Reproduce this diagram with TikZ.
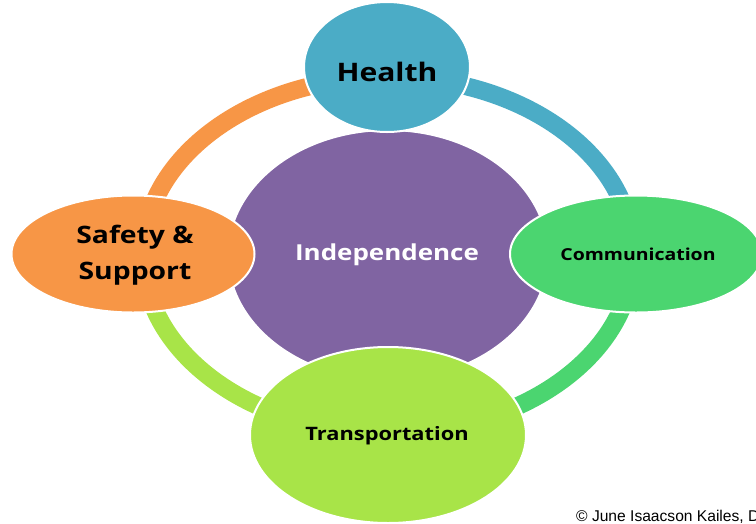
\documentclass[tikz,border=0pt]{standalone}
\usepackage{fontspec}
\usetikzlibrary{shapes.geometric}
\newfontfamily\lblfont[FakeStretch=1.18]{Open Sans}
\newfontfamily\copyfont{Liberation Sans}
\definecolor{cHealth}{HTML}{4BACC6}
\definecolor{cIndep}{HTML}{8064A2}
\definecolor{cSafety}{HTML}{F79646}
\definecolor{cComm}{HTML}{4BD570}
\definecolor{cTrans}{HTML}{A8E448}
\tikzset{
  ringarc/.style={line width=18pt, line cap=butt},
  blob/.style={ellipse, draw=white, line width=2pt, inner sep=0pt},
  lbl/.style={font=\lblfont\bfseries, text=black, align=center, inner sep=0pt},
}
\begin{document}
\begin{tikzpicture}[x=1pt,y=-1pt]
\useasboundingbox (0,0) rectangle (756,523);
\clip (0,0) rectangle (756,523);
% ring
\draw[ringarc, cSafety] (143,255) arc[start angle=180, end angle=270, x radius=245, y radius=178];
\draw[ringarc, cHealth] (388,77) arc[start angle=270, end angle=360, x radius=245, y radius=178];
\draw[ringarc, cComm] (633,255) arc[start angle=0, end angle=90, x radius=245, y radius=178];
\draw[ringarc, cTrans] (388,433) arc[start angle=90, end angle=180, x radius=245, y radius=178];
% centre
\node[blob, fill=cIndep, minimum width=320pt, minimum height=250pt] (indep) at (388,255) {};
% satellites
\node[blob, fill=cHealth, minimum width=166pt, minimum height=130pt] (health) at (387,67) {};
\node[blob, fill=cSafety, minimum width=243pt, minimum height=117pt] (safety) at (133,254) {};
\node[blob, fill=cComm, minimum width=252pt, minimum height=117pt] (comm) at (636,254) {};
\node[blob, fill=cTrans, minimum width=276pt, minimum height=176pt] (trans) at (388,435) {};
% labels
\node[lbl, font=\lblfont\bfseries\fontsize{25.5}{30}\selectfont] (healthtxt) at (387,72) {Health};
\node[lbl, text=white, font=\lblfont\bfseries\fontsize{22}{26}\selectfont] (indeptxt) at (387,255) {Independence};
\node[lbl, font=\lblfont\bfseries\fontsize{24}{36}\selectfont] (safetytxt) at (135,255) {Safety \&\\Support};
\node[lbl, font=\lblfont\bfseries\fontsize{16.5}{20}\selectfont] (commtxt) at (638,254) {Communication};
\node[lbl, font=\lblfont\bfseries\fontsize{18.5}{22}\selectfont] (transtxt) at (387,436) {Transportation};
% copyright
\node[anchor=base west, inner sep=0pt, font=\copyfont\fontsize{15.6}{18}\selectfont] (copy) at (576,521) {© June Isaacson Kailes, D};
\end{tikzpicture}
\end{document}
